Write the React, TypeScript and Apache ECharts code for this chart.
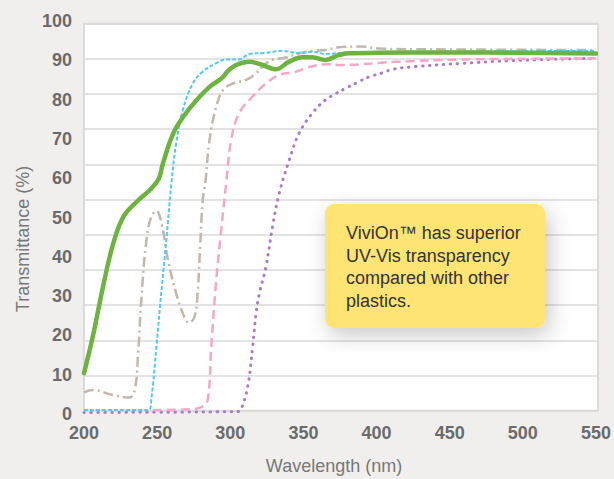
import React, { useEffect, useRef } from "react";
import * as echarts from "echarts";

const xTicks = [200, 250, 300, 350, 400, 450, 500, 550];
const yTicks = [0, 10, 20, 30, 40, 50, 60, 70, 80, 90, 100];

const vivion: [number, number][] = [
  [200, 10.4], [206, 19.7], [213, 32.4], [220, 43.4], [227, 50.2], [236, 54.0], [245, 57.0],
  [251, 59.8], [254, 63.8], [261, 71.4], [268, 75.7], [277, 79.9], [286, 83.3], [294, 85.4],
  [299, 87.5], [304, 88.8], [313, 89.6], [322, 88.8], [331, 87.7], [340, 89.6], [349, 90.8],
  [356, 90.8], [365, 90.1], [374, 91.3], [381, 91.8], [400, 91.9], [450, 92.0], [500, 91.9], [550, 91.7],
];
const cyanSeries: [number, number][] = [
  [200, 1.0], [244, 1.0], [246, 3.6], [249.5, 17.1], [253, 31.6], [256.3, 44.3], [259.7, 58.5],
  [263, 68.9], [267.6, 77.4], [274.4, 84.1], [281, 87.1], [290, 89.2], [297, 90.2], [306, 90.2],
  [313, 91.6], [324, 91.9], [336, 92.4], [347, 91.8], [356, 92.2], [365, 91.6], [380, 92.0],
  [450, 92.2], [550, 92.4],
];
const brownSeries: [number, number][] = [
  [200, 5.5], [206, 6.1], [220, 4.8], [231, 4.2], [234.7, 6.1], [237, 15.4], [239.3, 29.8],
  [242.7, 44.3], [246, 50.2], [249.5, 51.7], [253, 48.5], [257.4, 39.2], [263, 30.7], [267.6, 25.6],
  [271.7, 23.2], [275.6, 24.8], [277.8, 31.6], [279.4, 42.6], [281.2, 54.5], [283, 59.0],
  [285.8, 69.7], [290.4, 78.2], [295, 82.4], [301.7, 84.1], [310.8, 85.0], [317.6, 86.7],
  [324.4, 89.2], [329, 90.2], [338, 90.7], [347, 91.8], [356, 92.4], [365, 92.6], [374, 93.3],
  [390, 93.5], [402, 93.0], [436, 92.8], [550, 92.6],
];
const pinkSeries: [number, number][] = [
  [247, 1.0], [272, 1.2], [281, 1.9], [284.6, 3.6], [287, 17.1], [290.4, 34.1], [293.8, 46.8],
  [297.2, 58.8], [300.6, 69.7], [306, 76.5], [315, 80.7], [324.4, 84.1], [333.5, 86.3],
  [344.8, 87.1], [356, 88.5], [367.5, 89.0], [374, 88.8], [413, 89.6], [458, 90.2], [550, 90.5],
];
const purpleSeries: [number, number][] = [
  [200, 0.4], [305, 0.6], [307.4, 1.2], [311.9, 7.0], [315.3, 17.1], [317.6, 25.6], [319.8, 30.5],
  [324.4, 37.5], [328.9, 47.7], [333.5, 56.2], [340.3, 64.6], [347, 71.4], [356, 76.5],
  [365, 79.9], [372, 81.5], [379, 82.9], [388, 84.6], [395, 85.8], [404, 86.8], [411, 87.7],
  [426, 88.4], [458, 89.2], [492, 89.9], [550, 90.5],
];

const noteText = "ViviOn™ has superior\nUV-Vis transparency\ncompared with other\nplastics.";
const xTitle = "Wavelength (nm)";
const yTitle = "Transmittance (%)";

export default function App() {
  const ref = useRef<HTMLDivElement>(null);
  useEffect(() => {
    if (!ref.current) return;
    const chart = echarts.init(ref.current, null, { renderer: "svg" });
    const font = "'Liberation Sans', Arial, Helvetica, sans-serif";
    const line = (data: [number, number][], color: string, width: number, type: any, z: number, cap = "butt") => ({
      type: "line",
      xAxisIndex: 1,
      yAxisIndex: 1,
      data,
      smooth: 0.4,
      showSymbol: false,
      symbol: "none",
      z,
      lineStyle: { color, width, type, cap, join: "round" },
    });
    chart.setOption({
      animation: false,
      backgroundColor: "#f0efed",
      textStyle: { fontFamily: font },
      grid: [
        { left: 84, top: 23.7, width: 514, height: 387, show: true, backgroundColor: "#ffffff", borderColor: "#dcdcdc", borderWidth: 2 },
        { left: 84, top: 21, width: 514, height: 393 },
      ],
      xAxis: [
        { type: "value", gridIndex: 0, min: 0, max: 1, show: false },
        {
          type: "value", gridIndex: 1, min: 200, max: 550, interval: 50,
          axisLine: { show: false }, axisTick: { show: false }, splitLine: { show: false },
          axisLabel: { color: "#6b6b6b", fontSize: 18, fontWeight: "bold", margin: 10, fontFamily: font,
            customValues: xTicks },
        },
      ],
      yAxis: [
        {
          type: "value", gridIndex: 0, min: 0, max: 11, interval: 1,
          axisLine: { show: false }, axisTick: { show: false }, axisLabel: { show: false },
          splitLine: { show: true, lineStyle: { color: "#dadada", width: 1.6 } },
        },
        {
          type: "value", gridIndex: 1, min: 0, max: 100, interval: 10,
          axisLine: { show: false }, axisTick: { show: false }, splitLine: { show: false },
          axisLabel: { color: "#6b6b6b", fontSize: 18, fontWeight: "bold", margin: 12, fontFamily: font,
            customValues: yTicks },
        },
      ],
      series: [
        line(purpleSeries, "#a87fc6", 3, [0.5, 6.5], 2, "round"),
        line(pinkSeries, "#f6a7c9", 2.5, [9, 5], 3),
        line(brownSeries, "#c3b6aa", 2.5, [10, 4, 2, 4], 4),
        line(cyanSeries, "#55c8f0", 2, [4, 2], 5),
        line(vivion, "#6cb43f", 4.5, "solid", 6, "round"),
      ],
      graphic: [
        {
          type: "text", x: 334, y: 466, z: 10,
          style: { text: xTitle, fill: "#787878", font: `18px ${font}`, align: "center", verticalAlign: "middle" },
        },
        {
          type: "text", x: 23, y: 239, rotation: Math.PI / 2, z: 10,
          style: { text: yTitle, fill: "#787878", font: `18px ${font}`, align: "center", verticalAlign: "middle" },
        },
        {
          type: "rect", z: 20,
          shape: { x: 325, y: 204, width: 220, height: 124, r: 9 },
          style: { fill: "#fde473", shadowBlur: 22, shadowColor: "rgba(0,0,0,0.22)", shadowOffsetX: 4, shadowOffsetY: 7 },
        },
        {
          type: "text", x: 346, y: 222, z: 21,
          style: { text: noteText, fill: "#333333", font: `18px ${font}`, lineHeight: 22.5, align: "left", verticalAlign: "top" },
        },
      ],
    });
    return () => chart.dispose();
  }, []);
  return (
    <div
      ref={ref}
      style={{ position: "fixed", left: 0, top: 0, width: 614, height: 479 }}
    />
  );
}
